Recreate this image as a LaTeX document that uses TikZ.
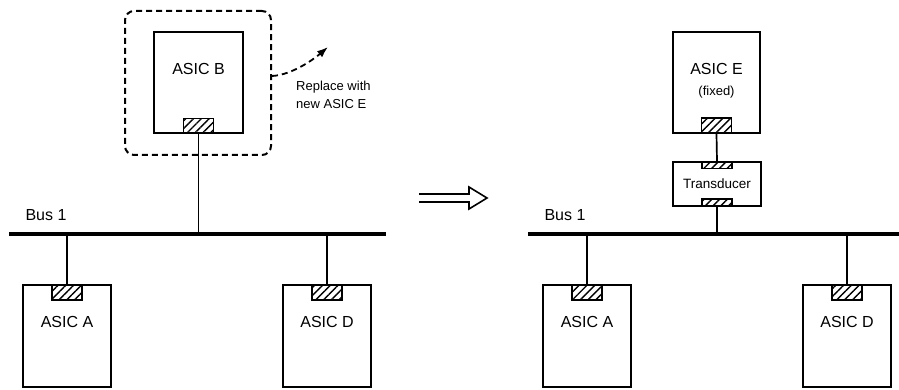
\documentclass[tikz,border=0pt]{standalone}
\usepackage{fontspec}
\setmainfont{Liberation Sans}
\usetikzlibrary{arrows.meta, positioning, calc, patterns.meta}
\tikzset{
    % Default text
    every node/.style={font=\fontsize{16}{19}\selectfont},
    % ASIC box style
    chip/.style={
        rectangle,
        draw=black,
        line width=2pt,
        minimum width=88pt,
        minimum height=102pt,
        inner sep=0pt
    },
    % Hatched bus port
    port/.style={
        rectangle,
        draw=black,
        line width=1.5pt,
        pattern={Lines[angle=45, distance=5.5pt, line width=1.4pt]},
        minimum width=30pt,
        minimum height=15pt,
        inner sep=0pt
    },
    % Thin port on the transducer
    thinport/.style={
        port,
        minimum height=7pt
    },
    % Transducer box
    transbox/.style={
        rectangle,
        draw=black,
        line width=2pt,
        minimum width=88pt,
        minimum height=44pt,
        inner sep=0pt,
        font=\fontsize{13.5}{16}\selectfont
    },
    % Dashed frame round the replaced ASIC
    swapframe/.style={
        rectangle,
        draw=black,
        line width=2pt,
        dash pattern=on 6pt off 4pt,
        rounded corners=9pt,
        minimum width=146pt,
        minimum height=144pt
    },
    % Bus line
    bus/.style={line width=3.6pt},
    % Wire to the bus
    link/.style={line width=1.7pt},
    % Dashed arrow
    replacearrow/.style={
        -{Latex[length=11pt, width=8pt]},
        line width=1.8pt,
        dash pattern=on 6pt off 4pt
    },
    % Small note text
    note/.style={font=\fontsize{13}{18}\selectfont, align=left, inner sep=0pt}
}
\begin{document}
\begin{tikzpicture}[x=1pt, y=-1pt]
    \useasboundingbox (0,0) rectangle (899,390);

    % Before
    \node (swap) [swapframe] at (198,83) {};
    \node (asicB) [chip, minimum width=89pt, minimum height=101pt] at (198.5,82.5) {};
    \node (portB) [port, anchor=south] at (asicB.south) {};
    \node (lblB) at ($(asicB.north)+(0,38)$) {ASIC B};

    \coordinate (busLw) at (9,234);
    \coordinate (busLe) at (386,234);
    \draw [bus] (busLw) -- (busLe);
    \node (busL) at (46,215) {Bus 1};

    \node (asicA) [chip] at (67,336) {};
    \node (portA) [port, anchor=north] at (asicA.north) {};
    \node (lblA) at ($(asicA.north)+(0,38)$) {ASIC A};

    \node (asicD) [chip] at (327,336) {};
    \node (portD) [port, anchor=north] at (asicD.north) {};
    \node (lblD) at ($(asicD.north)+(0,38)$) {ASIC D};

    \draw [link] (asicB.south) -- (asicB.south |- busLw);
    \draw [link] (portA.north) -- (portA.north |- busLw);
    \draw [link] (portD.north) -- (portD.north |- busLw);

    % Replace note
    \coordinate (swapout) at ($(swap.east)+(0,-7)$);
    \coordinate (newtip) at (328,47);
    \draw [replacearrow] (swapout) .. controls +(20,-1) and +(-14,12) .. (newtip);
    \node (replace) [note, anchor=west] at (296,95) {Replace with\\new ASIC E};

    % Implies arrow
    \coordinate (goL) at (419,198);
    \draw [line width=1.6pt, line join=miter]
        ($(goL)+(0,-4)$) -- ++(50,0) -- ++(0,-7) -- ++(18,11)
        -- ++(-18,11) -- ++(0,-7) -- ++(-50,0);

    % After
    \node (asicE) [chip, minimum width=87pt, minimum height=101pt] at (716.5,82.5) {};
    \node (portE) [port, anchor=south] at (asicE.south) {};
    \node (lblE) at ($(asicE.north)+(0,38)$) {ASIC E};
    \node (fixed) [font=\fontsize{13}{16}\selectfont] at ($(asicE.north)+(0,61)$) {(fixed)};

    \node (trans) [transbox] at (717,184) {Transducer};
    \node (transin) [thinport, anchor=north] at (trans.north) {};
    \node (transout) [thinport, anchor=south] at (trans.south) {};

    \coordinate (busRw) at (528,234);
    \coordinate (busRe) at (899,234);
    \draw [bus] (busRw) -- (busRe);
    \node (busR) at (565,215) {Bus 1};

    \node (asicA2) [chip] at (587,336) {};
    \node (portA2) [port, anchor=north] at (asicA2.north) {};
    \node (lblA2) at ($(asicA2.north)+(0,38)$) {ASIC A};

    \node (asicD2) [chip] at (847,336) {};
    \node (portD2) [port, anchor=north] at (asicD2.north) {};
    \node (lblD2) at ($(asicD2.north)+(0,38)$) {ASIC D};

    \draw [link] (asicE.south) -- (trans.north);
    \draw [link] (trans.south) -- (trans.south |- busRw);
    \draw [link] (portA2.north) -- (portA2.north |- busRw);
    \draw [link] (portD2.north) -- (portD2.north |- busRw);
\end{tikzpicture}
\end{document}
